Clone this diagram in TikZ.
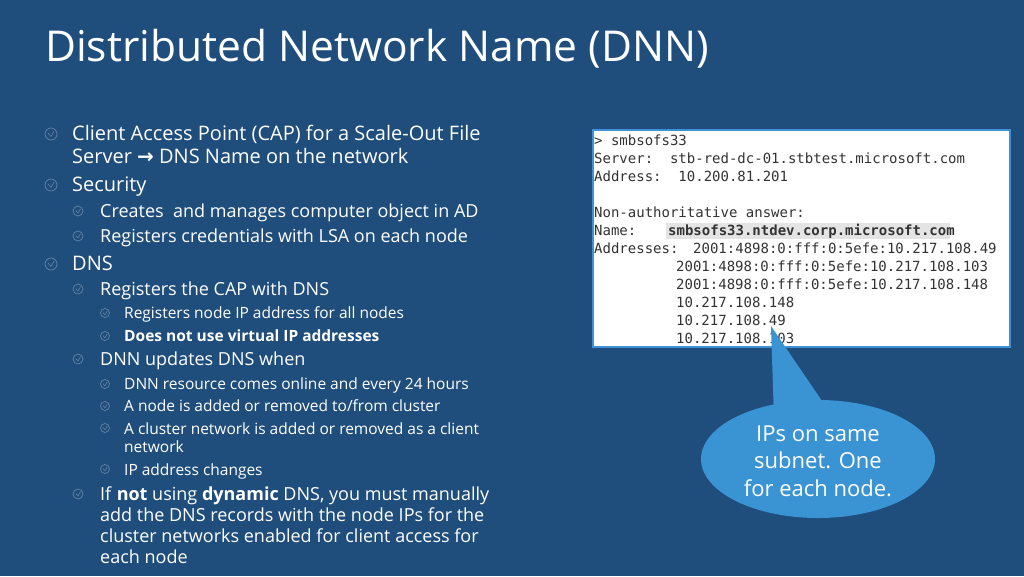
\documentclass[tikz,border=0pt]{standalone}
\usepackage{fontspec}
\setmainfont{Open Sans}
\setmonofont{DejaVu Sans Mono}
\newfontfamily\arrowfont{DejaVu Sans}
\usetikzlibrary{shapes.geometric}
\definecolor{bgblue}{HTML}{1F4E7C}
\definecolor{callblue}{HTML}{3A93D3}
\definecolor{boxborder}{HTML}{3F90D4}
\definecolor{codegray}{HTML}{333333}
\definecolor{bulc}{HTML}{6483A8}
\definecolor{hl}{HTML}{E4E4E4}
\tikzset{
  lone/.style={anchor=base west, inner sep=0pt, text=white, font=\fontsize{20}{24}\selectfont},
  ltwo/.style={anchor=base west, inner sep=0pt, text=white, font=\fontsize{18}{22}\selectfont},
  lthree/.style={anchor=base west, inner sep=0pt, text=white, font=\fontsize{15.5}{19}\selectfont},
  codeline/.style={anchor=base west, inner sep=0pt, text=codegray, font=\ttfamily\fontsize{14}{18}\selectfont},
  titletext/.style={anchor=base west, inner sep=0pt, text=white, font=\fontsize{42.5}{48}\selectfont},
  bulletmark/.pic={\draw[bulc, line width=0.7pt] (0,0) circle (#1);
     \draw[bulc, line width=0.6pt] (-0.45*#1,-0.1*#1) -- (0,0.4*#1) -- (0.5*#1,-0.45*#1);},
}
\begin{document}
\begin{tikzpicture}[x=1pt,y=-1pt]
\fill[bgblue] (0,0) rectangle (1024,576);
\useasboundingbox (0,0) rectangle (1024,576);

% title
\node[titletext] (title) at (45,61) {Distributed Network Name (DNN)};

% bullets
\pic at (51,134) {bulletmark=6};
\pic at (51,185) {bulletmark=6};
\pic at (51,264) {bulletmark=6};
\pic at (78,211) {bulletmark=5};
\pic at (78,236) {bulletmark=5};
\pic at (78,289) {bulletmark=5};
\pic at (78,359) {bulletmark=5};
\pic at (78,494) {bulletmark=5};
\pic at (105,313) {bulletmark=4.5};
\pic at (105,336) {bulletmark=4.5};
\pic at (105,384) {bulletmark=4.5};
\pic at (105,406) {bulletmark=4.5};
\pic at (105,428) {bulletmark=4.5};
\pic at (105,469) {bulletmark=4.5};

% text
\node[lone] (t1) at (72,140) {Client Access Point (CAP) for a Scale-Out File};
\node[lone] (t2) at (72,163) {Server {\arrowfont\bfseries →} DNS Name on the network};
\node[lone] (t3) at (72,191) {Security};
\node[ltwo] (t4) at (100,217) {Creates\ \ and manages computer object in AD};
\node[ltwo] (t5) at (100,242) {Registers credentials with LSA on each node};
\node[lone] (t6) at (72,270) {DNS};
\node[ltwo] (t7) at (100,295) {Registers the CAP with DNS};
\node[lthree] (t8) at (124,318) {Registers node IP address for all nodes};
\node[lthree] (t9) at (124,341) {\bfseries Does not use virtual IP addresses};
\node[ltwo] (t10) at (100,365) {DNN updates DNS when};
\node[lthree] (t11) at (124,389) {DNN resource comes online and every 24 hours};
\node[lthree] (t12) at (124,411) {A node is added or removed to/from cluster};
\node[lthree] (t13) at (124,434) {A cluster network is added or removed as a client};
\node[lthree] (t14) at (124,452) {network};
\node[lthree] (t15) at (124,475) {IP address changes};
\node[ltwo] (t16) at (100,500) {If \textbf{not} using \textbf{dynamic} DNS, you must manually};
\node[ltwo] (t17) at (100,521) {add the DNS records with the node IPs for the};
\node[ltwo] (t18) at (100,542) {cluster networks enabled for client access for};
\node[ltwo] (t19) at (100,563) {each node};

% code box
\draw[boxborder, line width=2pt, fill=white] (593,130) rectangle (1010,347);
\fill[hl] (666,223) rectangle (950,239);
\node[codeline] (c1) at (594,145) {> smbsofs33};
\node[codeline] (c2) at (594,163) {Server:\ \ stb-red-dc-01.stbtest.microsoft.com};
\node[codeline] (c3) at (594,181) {Address:\ \ 10.200.81.201};
\node[codeline] (c4) at (594,217) {Non-authoritative answer:};
\node[codeline] (c5) at (594,235) {Name:};
\node[codeline] (c5b) at (668,235) {\bfseries smbsofs33.ntdev.corp.microsoft.com};
\node[codeline] (c6) at (594,253) {Addresses:};
\node[codeline] (c6b) at (693,253) {2001:4898:0:fff:0:5efe:10.217.108.49};
\node[codeline] (c7) at (676,271) {2001:4898:0:fff:0:5efe:10.217.108.103};
\node[codeline] (c8) at (676,289) {2001:4898:0:fff:0:5efe:10.217.108.148};
\node[codeline] (c9) at (676,307) {10.217.108.148};
\node[codeline] (c10) at (676,325) {10.217.108.49};
\node[codeline] (c11) at (676,343) {10.217.108.103};

% callout
\coordinate (tip) at (771,326);
\node[ellipse, fill=callblue, minimum width=234pt, minimum height=118pt, inner sep=0pt] (callout) at (818,459) {};
\fill[callblue] (tip) -- (774,420) -- (835,420) -- cycle;
\node[text=white, align=center, font=\fontsize{22}{27.5}\selectfont, inner sep=0pt] (calltext) at (818,461)
      {IPs on same\\subnet. One\\for each node.};
\end{tikzpicture}
\end{document}
